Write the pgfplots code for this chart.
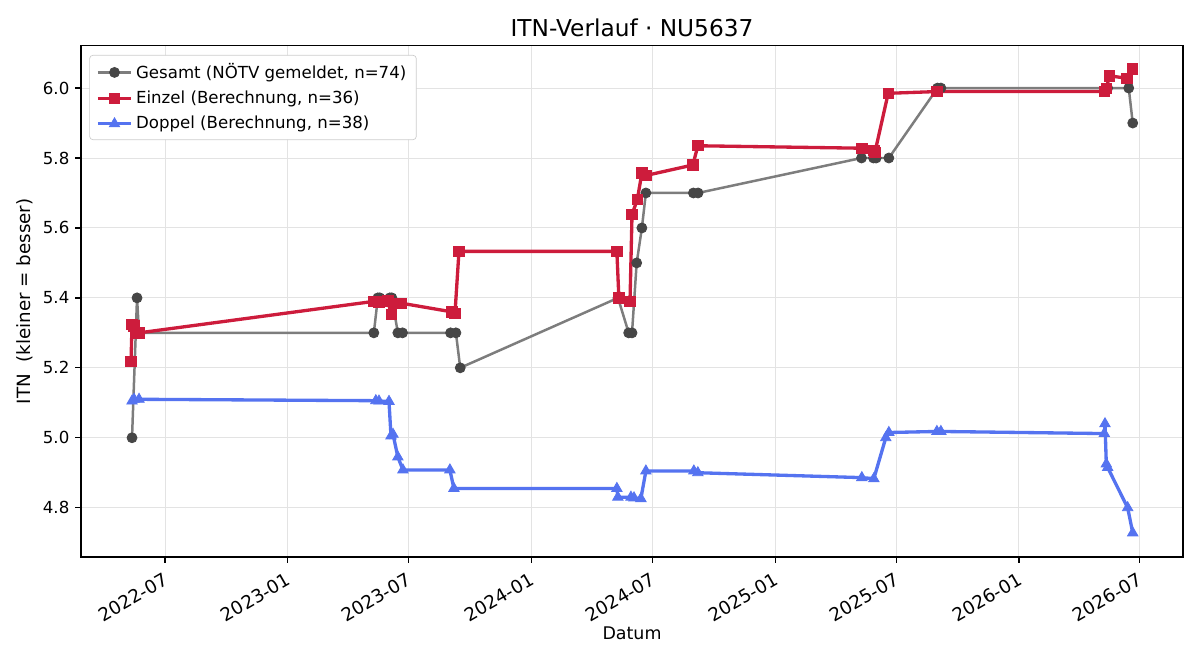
\documentclass[border=0pt]{standalone}
\usepackage{fontspec}
\setmainfont{DejaVu Sans}
\usepackage{pgfplots}
\pgfplotsset{compat=1.18}
\definecolor{gline}{RGB}{125,125,125}
\definecolor{gmark}{RGB}{70,70,70}
\definecolor{rline}{RGB}{205,28,60}
\definecolor{bline}{RGB}{85,115,240}
\begin{document}
\begin{tikzpicture}
\begin{axis}[
  at={(0,0)}, anchor=south west,
  scale only axis, width=663.7pt, height=307.9pt,
  xmin=55, xmax=1707, ymin=4.659, ymax=6.121,
  xtick={181,365,546,730,912,1096,1277,1461,1642},
  xticklabels={2022-07,2023-01,2023-07,2024-01,2024-07,2025-01,2025-07,2026-01,2026-07},
  ytick={4.8,5.0,5.2,5.4,5.6,5.8,6.0},
  yticklabel style={font=\fontsize{10}{12}\selectfont, /pgf/number format/fixed, /pgf/number format/fixed zerofill, /pgf/number format/precision=1, /pgf/number format/assume math mode=true},
  xticklabel style={rotate=30, anchor=north east, font=\fontsize{11}{13}\selectfont, inner sep=1pt, yshift=-3pt, xshift=-3pt},
  tick align=outside, major tick length=3.5pt,
  every tick/.style={black, line width=0.8pt},
  xtick pos=bottom, ytick pos=left,
  axis line style={line width=0.8pt},
  grid=major, major grid style={line width=0.6pt, black!11},
  title={ITN-Verlauf · NU5637},
  title style={font=\fontsize{14}{16}\selectfont, at={(axis description cs:0.5,1.0152)}, anchor=center},
  xlabel={Datum},
  xlabel style={font=\fontsize{10.5}{12}\selectfont, at={(axis description cs:0.5,-0.1487)}, anchor=center},
  ylabel={ITN\ \ (kleiner = besser)},
  ylabel style={font=\fontsize{11}{13}\selectfont, at={(axis description cs:-0.0508,0.5)}, anchor=center},
  legend style={at={(axis description cs:0.0075,0.982)}, anchor=north west, draw=black!20, rounded corners=2pt, fill=white, font=\fontsize{10}{12}\selectfont, row sep=2pt, inner xsep=4pt, inner ysep=3pt},
  legend cell align=left,
  legend image code/.code={\draw[mark repeat=2,mark phase=2,#1] plot coordinates {(0pt,0pt)(10pt,0pt)(20pt,0pt)};},
]
\addplot[gline, line width=1.5pt, mark=*, mark size=3pt, mark options={fill=gmark, draw=gmark, line width=0.5pt}] table {
131.5 5.0
139 5.4
142 5.3
494 5.3
500 5.4
503 5.4
518 5.4
521 5.4
530 5.3
537 5.3
609 5.3
617 5.3
623.5 5.2
860 5.4
876 5.3
881 5.3
888 5.5
895.8 5.6
901.8 5.7
973 5.7
980 5.7
1225 5.8
1243 5.8
1247 5.8
1266 5.8
1339 6.0
1344 6.0
1594 6.0
1625.6 6.0
1631.6 5.9
};
\addlegendentry{Gesamt (NÖTV gemeldet, n=74)}
\addplot[rline, line width=2pt, mark=square*, mark size=3.1pt, mark options={fill=rline, draw=rline, line width=0.5pt}] table {
130 5.218
131.5 5.325
134.5 5.32
142 5.30
494 5.39
501.7 5.387
509 5.39
515 5.392
520 5.353
526 5.385
534.6 5.385
611 5.36
615.6 5.355
621.6 5.533
858.3 5.533
861.3 5.40
878 5.39
881 5.638
889 5.682
895.8 5.757
901.8 5.75
972.2 5.78
979.7 5.835
1225.5 5.828
1243.5 5.822
1245 5.815
1265 5.985
1338 5.99
1589 5.99
1592 6.0
1597 6.035
1623 6.028
1631 6.055
};
\addlegendentry{Einzel (Berechnung, n=36)}
\addplot[bline, line width=2pt, mark=triangle*, mark size=3.6pt, mark options={fill=bline, draw=bline, line width=0.5pt}] table {
131.5 5.105
134.5 5.11
142 5.11
497 5.106
501.7 5.105
516.7 5.104
519.7 5.005
522.7 5.01
530 4.945
537.6 4.908
608 4.908
614 4.855
858.3 4.855
859.8 4.83
879.4 4.83
884 4.828
894.3 4.826
901.8 4.905
973.7 4.905
979.7 4.90
1225.5 4.886
1243.5 4.883
1261.4 5.0
1266 5.015
1338 5.018
1344 5.018
1589 5.012
1590 5.04
1592 4.925
1594 4.915
1624 4.80
1631.6 4.728
};
\addlegendentry{Doppel (Berechnung, n=38)}
\end{axis}
\pgfresetboundingbox
\path[use as bounding box] (-48.78pt,-62.03pt) rectangle (673.92pt,335.455pt);
\end{tikzpicture}
\end{document}
